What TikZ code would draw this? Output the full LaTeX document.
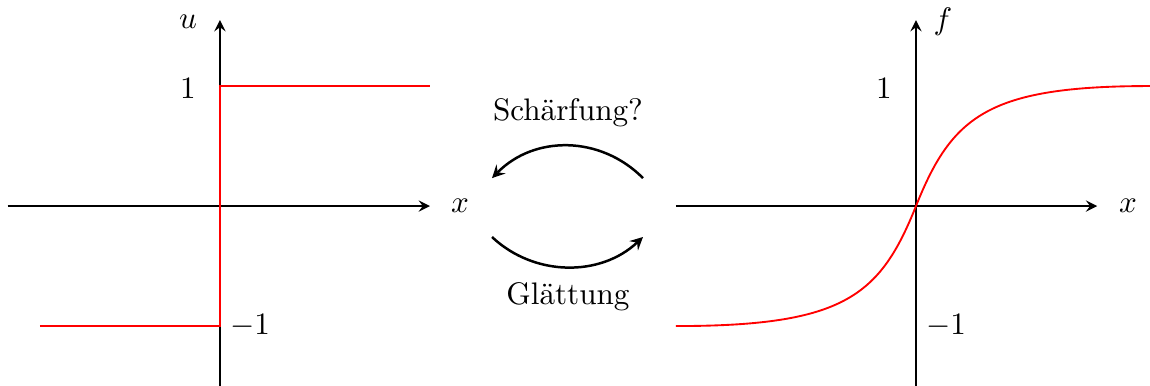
\documentclass[tikz,border=0pt]{standalone}
\usetikzlibrary{arrows}
\begin{document}
\begin{tikzpicture}[x=1.3535cm,y=1.3535cm,
  axis/.style={semithick,-stealth},
  graph/.style={semithick,red},
  transform/.style={thick,-stealth},
  lbl/.style={inner sep=0pt}]
\useasboundingbox (-1.833,-1.492) rectangle (7.75,1.717);
% left plot
\coordinate (L0) at (0,0);
\coordinate (Lxa) at (-1.77,0);
\coordinate (Lxb) at (1.75,0);
\coordinate (Lya) at (0,-1.6);
\coordinate (Lyb) at (0,1.55);
\draw[axis] (Lxa) -- (Lxb);
\draw[axis] (Lya) -- (Lyb);
\coordinate (La) at (-1.5,-1);
\coordinate (Lb) at (0,-1);
\coordinate (Lc) at (0,1);
\coordinate (Ld) at (1.75,1);
\draw[graph] (La) -- (Lb) -- (Lc) -- (Ld);
\node[lbl] (lu) at (-0.267,1.533) {$u$};
\node[lbl] (l1) at (-0.267,0.983) {$1$};
\node[lbl] (lm1) at (0.25,-1.0) {$-1$};
\node[lbl] (lx) at (2.0,0) {$x$};
% right plot
\coordinate (R0) at (5.8,0);
\coordinate (Rxa) at (3.8,0);
\coordinate (Rxb) at (7.31,0);
\coordinate (Rya) at (5.8,-1.6);
\coordinate (Ryb) at (5.8,1.55);
\draw[axis] (Rxa) -- (Rxb);
\draw[axis] (Rya) -- (Ryb);
\coordinate (Ra) at (3.8,-1);
\coordinate (Rb) at (7.75,1);
\draw[graph] (Ra) .. controls (5.2,-1) and (5.5,-0.75) .. (R0)
  .. controls (6.1,0.75) and (6.4,1) .. (Rb);
\node[lbl] (rf) at (6.025,1.533) {$f$};
\node[lbl] (r1) at (5.533,0.983) {$1$};
\node[lbl] (rm1) at (6.05,-1.0) {$-1$};
\node[lbl] (rx) at (7.567,0) {$x$};
% transforms
\coordinate (A1) at (3.525,0.233);
\coordinate (A2) at (2.267,0.233);
\coordinate (B1) at (2.267,-0.258);
\coordinate (B2) at (3.525,-0.258);
\draw[transform] (A1) .. controls (3.17,0.59) and (2.62,0.59) .. (A2);
\draw[transform] (B1) .. controls (2.62,-0.59) and (3.17,-0.59) .. (B2);
\node (ts) at (2.9,0.775) {Sch\"arfung?};
\node (tg) at (2.9,-0.758) {Gl\"attung};
\end{tikzpicture}
\end{document}
